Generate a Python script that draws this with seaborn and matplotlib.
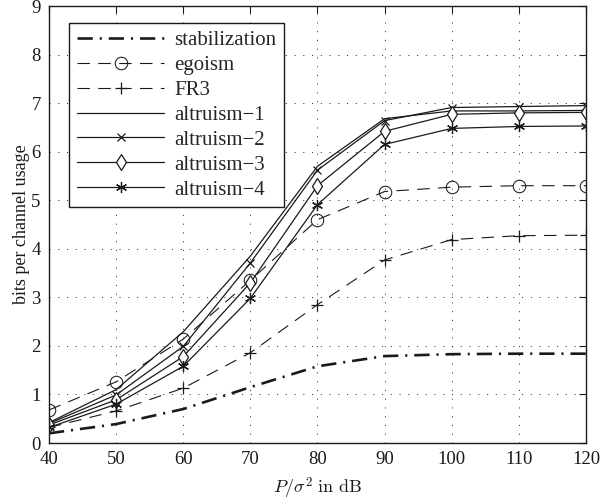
import matplotlib
matplotlib.use("Agg")
import matplotlib.pyplot as plt
import seaborn as sns
import numpy as np
import pandas as pd

# ---- data ----
snr_db = [40, 50, 60, 70, 80, 90, 100, 110, 120]
stabilization = [0.20, 0.39, 0.70, 1.15, 1.58, 1.79, 1.83, 1.84, 1.84]
egoism = [0.68, 1.26, 2.14, 3.35, 4.60, 5.18, 5.27, 5.30, 5.30]
fr3 = [0.32, 0.66, 1.13, 1.86, 2.85, 3.77, 4.19, 4.27, 4.28]
altruism1 = [0.42, 1.10, 2.29, 3.85, 5.70, 6.68, 6.84, 6.84, 6.85]
altruism2 = [0.40, 0.99, 1.99, 3.71, 5.62, 6.64, 6.91, 6.93, 6.95]
altruism3 = [0.37, 0.89, 1.78, 3.30, 5.30, 6.42, 6.77, 6.80, 6.81]
altruism4 = [0.32, 0.80, 1.58, 2.98, 4.91, 6.15, 6.48, 6.52, 6.53]
labels = ["stabilization", "egoism", "FR3", "altruism\u22121", "altruism\u22122",
          "altruism\u22123", "altruism\u22124"]
x_ticks = [40, 50, 60, 70, 80, 90, 100, 110, 120]
y_ticks = [0, 1, 2, 3, 4, 5, 6, 7, 8, 9]

sns.set_theme(style="white")
plt.rcParams['font.family'] = ['serif']
plt.rcParams['font.serif'] = ['Liberation Serif', 'DejaVu Serif']
plt.rcParams['mathtext.fontset'] = 'cm'
plt.rcParams['lines.scale_dashes'] = False

fig = plt.figure(figsize=(6.01, 5.04), dpi=100)
ax = fig.add_axes([0.0815, 0.121, 0.8935, 0.867])

series = [stabilization, egoism, fr3, altruism1, altruism2, altruism3, altruism4]
styles = [
    dict(lw=1.9, ls=(0, (11, 5, 1.5, 5)), marker=None),
    dict(lw=0.8, ls=(0, (9, 6)), marker='o', ms=9, mfc='none'),
    dict(lw=0.8, ls=(0, (9, 6)), marker='+', ms=9, mew=0.9),
    dict(lw=0.9, ls='-', marker=None),
    dict(lw=0.9, ls='-', marker='x', ms=6, mew=0.9),
    dict(lw=0.9, ls='-', marker='d', ms=8, mfc='white', mew=0.9),
    dict(lw=0.9, ls='-', marker=(6, 2, 0), ms=8, mew=0.9),
]

handles = []
for vals, lab, st in zip(series, labels, styles):
    df = pd.DataFrame({"x": snr_db, "y": vals})
    kw = dict(st)
    sns.lineplot(data=df, x="x", y="y", ax=ax, color='k', linewidth=kw.pop('lw'),
                 linestyle=kw.pop('ls'), mec='k', **kw)
    handles.append(ax.lines[-1])

ax.set_xlim(40, 120)
ax.set_ylim(0, 9)
ax.set_xticks(x_ticks)
ax.set_yticks(y_ticks)
ax.tick_params(direction='in', length=5, width=0.8, top=True, right=True,
               labelsize=13.5, colors='k', pad=6)
ax.grid(True, color='k', linestyle=(0, (0.8, 5.5)), linewidth=0.6)
for s in ax.spines.values():
    s.set_color('k')
    s.set_linewidth(1.0)

ax.set_xlabel(r'$P/\sigma^2\ \mathrm{in\ dB}$', fontsize=13, color='k', labelpad=5)
ax.set_ylabel('bits per channel usage', fontsize=13, color='k', labelpad=1)

leg = ax.legend(handles, labels, loc='upper left', bbox_to_anchor=(0.037, 0.962),
                borderaxespad=0, fontsize=15, handlelength=4.2, numpoints=1,
                frameon=True, fancybox=False, framealpha=1, edgecolor='k',
                labelspacing=0.255, borderpad=0.38, handletextpad=0.48)
leg.get_frame().set_linewidth(1.0)

fig.savefig("out.png", dpi=100)
